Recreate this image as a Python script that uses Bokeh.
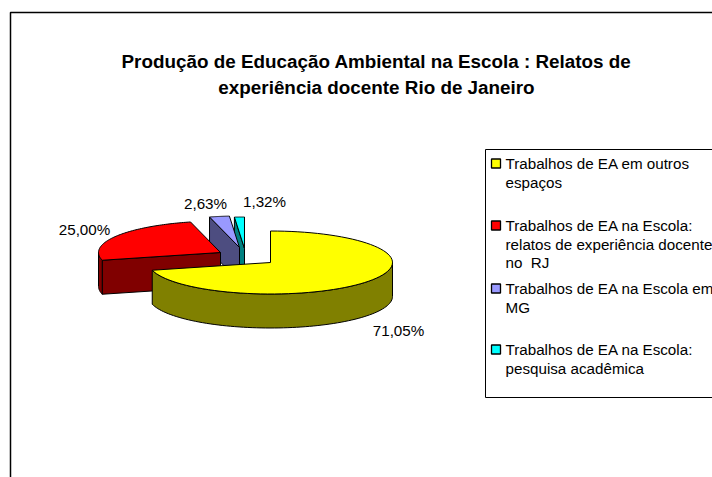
import numpy as np
from bokeh.plotting import figure
from bokeh.core.properties import value
from bokeh.embed import file_html
from bokeh.resources import INLINE

# --- data
title_lines = ["Produção de Educação Ambiental na Escola : Relatos de",
               "experiência docente Rio de Janeiro"]
shares = [71.05, 25.00, 2.63, 1.32]
share_labels = ["71,05%", "25,00%", "2,63%", "1,32%"]
legend_rows = [["Trabalhos de EA em outros", "espaços"],
               ["Trabalhos de EA na Escola:", "relatos de experiência docente", "no \u00a0RJ"],
               ["Trabalhos de EA na Escola em", "MG"],
               ["Trabalhos de EA na Escola:", "pesquisa acadêmica"]]
top_colors = ["#ffff00", "#ff0000", "#9999ff", "#00ffff"]
side_colors = ["#808000", "#800000", "#4d4d80", "#008080"]

# --- layout (page pixels)
W, H = 712, 477
FONT = value("Liberation Sans")
p = figure(width=W, height=H, x_range=(0, W), y_range=(H, 0),
           output_backend="svg", toolbar_location=None, min_border=0,
           outline_line_color=None, background_fill_color="white")
p.xaxis.visible = False
p.yaxis.visible = False
p.xgrid.visible = False
p.ygrid.visible = False

# chart frame
p.line([10, 10, W], [H, 12, 12], line_color="black", line_width=1.5)

# pie geometry
RX, RY, DEPTH = 122, 31.5, 34
apexes = [(270, 262), (220, 252), (239, 247), (244, 248)]
edges = np.cumsum([0] + shares) / sum(shares) * 2 * np.pi


def rim(i, a, b, n=80):
    cx, cy = apexes[i]
    t = np.linspace(a, b, n)
    return cx + RX * np.sin(t), cy - RY * np.cos(t)


def draw_wedge(i):
    a, b = edges[i], edges[i + 1]
    cx, cy = apexes[i]
    # cut face turned towards the viewer
    if i in (1, 2, 3):
        ex, ey = rim(i, a, a, 1)
        p.patch([cx, ex[0], ex[0], cx], [cy, ey[0], ey[0] + DEPTH, cy + DEPTH],
                fill_color=side_colors[i], line_color="black", line_width=1)
    # outer rim facing the viewer (pi/2 .. 3pi/2)
    lo, hi = max(a, np.pi / 2), min(b, 3 * np.pi / 2)
    if lo < hi:
        x, y = rim(i, lo, hi)
        p.patch(np.r_[x, x[::-1]], np.r_[y, y[::-1] + DEPTH],
                fill_color=side_colors[i], line_color="black", line_width=1)
    x, y = rim(i, a, b)
    p.patch(np.r_[cx, x], np.r_[cy, y], fill_color=top_colors[i],
            line_color="black", line_width=1)


for i in (3, 2, 1, 0):
    draw_wedge(i)


def txt(x, y, s, size, align="left", style="normal"):
    p.text([x], [y], text=[s], text_font=FONT, text_font_size=size, text_align=align,
           text_baseline="middle", text_font_style=style, text_color="black")


# title
for s, y in zip(title_lines, (61, 87)):
    txt(376, y, s, "18.85px", "center", "bold")

# slice labels
for s, (x, y) in zip(share_labels, [(398, 330), (84, 229), (205, 203), (264, 201)]):
    txt(x, y, s, "15.2px", "center")

# legend
p.line([W, 485, 485, W], [149, 149, 397, 397], line_color="black", line_width=1)
first_rows = [163, 225, 288, 349]
spacing = 18.5
for rows, y0, col in zip(legend_rows, first_rows, top_colors):
    p.quad(left=[491], right=[500], top=[y0 - 4.5], bottom=[y0 + 4.5],
           fill_color=col, line_color="black", line_width=1.3)
    for k, s in enumerate(rows):
        txt(505, y0 + k * spacing, s, "15.2px")

open("out.html", "w").write(file_html(p, INLINE))
